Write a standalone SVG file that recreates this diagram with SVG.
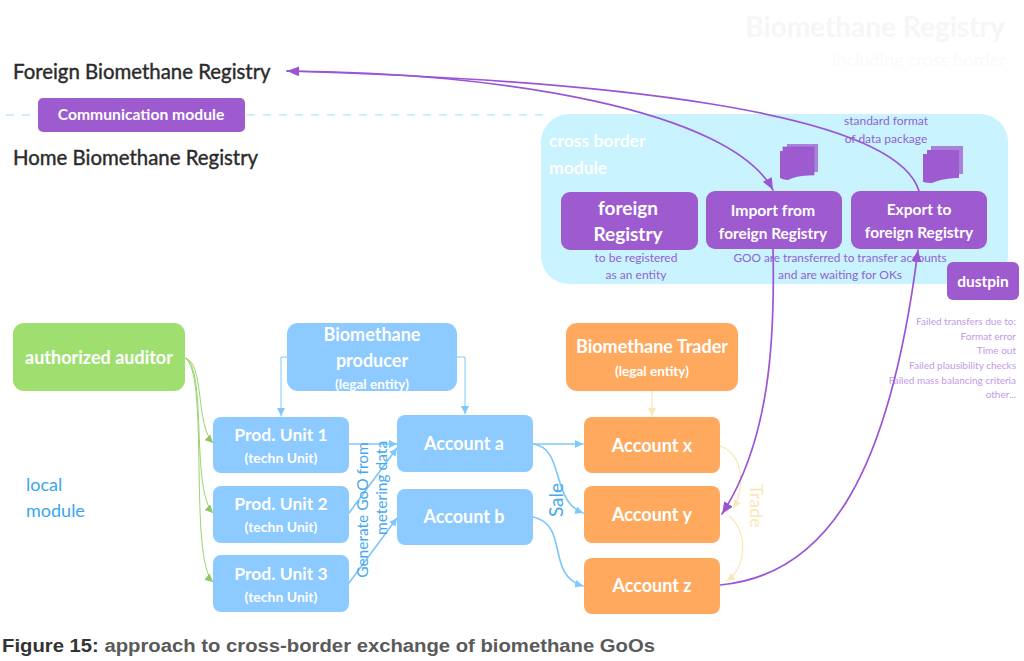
<svg xmlns="http://www.w3.org/2000/svg" width="1024" height="661" viewBox="0 0 1024 661">
<style>
text{font-family:"Lato","Open Sans","Liberation Sans",sans-serif;text-anchor:middle}
.w{fill:#fff;font-weight:700}
.p{fill:#9d5bcf}.b{fill:#8ccaff}.o{fill:#ffa95f}
.pt{fill:#8f63d2;font-size:12px}
.d{fill:#2b2b2b;font-size:20.4px;text-anchor:start;stroke:#2b2b2b;stroke-width:.4}
.c{fill:none;stroke-linecap:round}
.cp{stroke:#9a55d6;stroke-width:1.7}
.cb{stroke:#80c8fb;stroke-width:1.7}
.cbt{stroke:#80c8fb;stroke-width:1}
.cg{stroke:#9bd36f;stroke-width:1}
.cy{stroke:#fbe6b8;stroke-width:1.2}
.r{fill:#c19ae8;font-size:10px;text-anchor:end}
</style>
<defs>
<marker id="ap" markerWidth="14" markerHeight="12" refX="12" refY="5" orient="auto" markerUnits="userSpaceOnUse"><path d="M0 0L12 5L0 10z" fill="#9a55d6"/></marker>
<marker id="ab" markerWidth="9" markerHeight="8" refX="8" refY="4" orient="auto" markerUnits="userSpaceOnUse"><path d="M0 0L8 4L0 8z" fill="#80c8fb"/></marker>
<marker id="ag" markerWidth="9" markerHeight="8" refX="8" refY="4" orient="auto" markerUnits="userSpaceOnUse"><path d="M0 0L8 4L0 8z" fill="#8cc665"/></marker>
<marker id="ay" markerWidth="9" markerHeight="8" refX="8" refY="4" orient="auto" markerUnits="userSpaceOnUse"><path d="M0 0L8 4L0 8z" fill="#fbe6b8"/></marker>
</defs>
<rect width="1024" height="661" fill="#fff"/>

<g id="faint-title">
<text x="875" y="37" font-size="28" fill="#f6f6f7" font-weight="700">Biomethane Registry</text>
<text x="919" y="66" font-size="18" fill="#fafafa">including cross border</text>
</g>

<g id="registry-labels">
<text class="d" x="13" y="79">Foreign Biomethane Registry</text>
<text class="d" x="13" y="165">Home Biomethane Registry</text>
</g>
<path d="M6 115H37M247 115H545" stroke="#c9f0fb" stroke-width="2" stroke-dasharray="8 8" fill="none"/>

<g id="communication-module"><rect class="p" x="38" y="98" width="207" height="34" rx="5"/><text class="w" x="141" y="120" font-size="15.7">Communication module</text></g>

<g id="cross-border-module">
<rect x="541" y="114" width="467" height="170" rx="28" fill="#c9f3ff"/>
<text class="w" x="549" y="147" font-size="17.5" style="text-anchor:start">cross border</text>
<text class="w" x="549" y="174" font-size="17.5" style="text-anchor:start">module</text>
<text class="pt" x="886" y="125">standard format</text>
<text class="pt" x="886" y="143">of data package</text>
<text class="pt" x="636" y="262">to be registered</text>
<text class="pt" x="636" y="279">as an entity</text>
<text class="pt" x="840" y="262" style="font-size:11.8px">GOO are transferred to transfer accounts</text>
<text class="pt" x="840" y="279">and are waiting for OKs</text>
</g>

<g id="stack-import"><rect class="p" x="787" y="144" width="31" height="28" fill-opacity=".75"/><rect class="p" x="783" y="147" width="31" height="28" stroke="#8a55c4" stroke-width=".6"/><path class="p" d="M780 151H811V175Q795 176 788 180Q784 180 780 178z"/></g>
<g id="stack-export"><rect class="p" x="931" y="146" width="32" height="28" fill-opacity=".75"/><rect class="p" x="927" y="150" width="32" height="28"/><path class="p" d="M923 154H955V178Q940 179 932 183Q927 183 923 182z"/></g>

<g id="foreign-registry"><rect class="p" x="561" y="192" width="137" height="58" rx="9"/><text class="w" x="628" y="215" font-size="19">foreign</text><text class="w" x="628" y="241" font-size="19">Registry</text></g>
<g id="import"><rect class="p" x="706" y="191" width="136" height="58" rx="9"/><text class="w" x="773" y="216" font-size="15.7">Import from</text><text class="w" x="773" y="239" font-size="15.4">foreign Registry</text></g>
<g id="export"><rect class="p" x="851" y="191" width="136" height="58" rx="9"/><text class="w" x="919" y="215" font-size="15.5">Export to</text><text class="w" x="919" y="238" font-size="15.4">foreign Registry</text></g>
<g id="dustpin"><rect class="p" x="947" y="262" width="72" height="38" rx="6"/><text class="w" x="983" y="287" font-size="15.5">dustpin</text></g>

<g id="failed-notes">
<text class="r" x="1016" y="325">Failed transfers due to:</text>
<text class="r" x="1016" y="340">Format error</text>
<text class="r" x="1016" y="354">Time out</text>
<text class="r" x="1016" y="369">Failed plausibility checks</text>
<text class="r" x="1016" y="384">Failed mass balancing criteria</text>
<text class="r" x="1016" y="398">other...</text>
</g>

<g id="connectors">
<path class="c cg" marker-end="url(#ag)" d="M185 358C205 362 195 425 213 443"/>
<path class="c cg" marker-end="url(#ag)" d="M185 358C208 366 190 490 213 513"/>
<path class="c cg" marker-end="url(#ag)" d="M185 358C210 370 188 560 213 582"/>
<path class="c cbt" marker-end="url(#ab)" d="M287 357H281V416"/>
<path class="c cbt" marker-end="url(#ab)" d="M457 357H465V414"/>
<path class="c cb" marker-end="url(#ab)" d="M349 444H397"/>
<path class="c cb" marker-end="url(#ab)" d="M349 513L397 448"/>
<path class="c cb" marker-end="url(#ab)" d="M349 583L397 518"/>
<path class="c cb" marker-end="url(#ab)" d="M533 444H583"/>
<path class="c cb" marker-end="url(#ab)" d="M533 444C565 448 550 500 583 513"/>
<path class="c cb" marker-end="url(#ab)" d="M533 517C570 525 545 575 583 586"/>
<path class="c cy" marker-end="url(#ay)" d="M652 391V416"/>
<path class="c cy" marker-end="url(#ay)" d="M720 446C745 455 745 490 733 508"/>
<path class="c cy" marker-end="url(#ay)" d="M729 516C747 530 748 565 727 581"/>
<path class="c cp" marker-end="url(#ap)" d="M919 191C895 110 600 80 287 71"/>
<path class="c cp" marker-end="url(#ap)" d="M287 71C500 72 730 110 773 190"/>
<path class="c cp" marker-end="url(#ap)" d="M773 249C775 340 770 440 722 514"/>
<path class="c cp" marker-end="url(#ap)" d="M720 585C830 575 890 470 918 250"/>
</g>

<g id="auditor"><rect x="13" y="323" width="172" height="68" rx="11" fill="#9fdf70"/><text class="w" x="99" y="364" font-size="18">authorized auditor</text></g>
<g id="producer"><rect class="b" x="287" y="323" width="170" height="68" rx="11"/><text class="w" x="372" y="341" font-size="18">Biomethane</text><text class="w" x="372" y="367" font-size="18">producer</text><text class="w" x="372" y="389" font-size="13.5">(legal entity)</text></g>
<g id="trader"><rect class="o" x="566" y="323" width="172" height="68" rx="11"/><text class="w" x="652" y="353" font-size="18">Biomethane Trader</text><text class="w" x="652" y="376" font-size="13.5">(legal entity)</text></g>

<g id="prod-1"><rect class="b" x="213" y="417" width="136" height="56" rx="8"/><text class="w" x="281" y="441" font-size="17.5">Prod. Unit 1</text><text class="w" x="281" y="463" font-size="14">(techn Unit)</text></g>
<g id="prod-2"><rect class="b" x="213" y="486" width="136" height="57" rx="8"/><text class="w" x="281" y="510" font-size="17.5">Prod. Unit 2</text><text class="w" x="281" y="532" font-size="14">(techn Unit)</text></g>
<g id="prod-3"><rect class="b" x="213" y="555" width="136" height="57" rx="8"/><text class="w" x="281" y="580" font-size="17.5">Prod. Unit 3</text><text class="w" x="281" y="602" font-size="14">(techn Unit)</text></g>
<g id="account-a"><rect class="b" x="397" y="415" width="136" height="57" rx="8"/><text class="w" x="464" y="450" font-size="18">Account a</text></g>
<g id="account-b"><rect class="b" x="397" y="489" width="136" height="56" rx="8"/><text class="w" x="464" y="523" font-size="18">Account b</text></g>
<g id="account-x"><rect class="o" x="584" y="417" width="136" height="56" rx="8"/><text class="w" x="652" y="452" font-size="18">Account x</text></g>
<g id="account-y"><rect class="o" x="584" y="486" width="136" height="57" rx="8"/><text class="w" x="652" y="521" font-size="18">Account y</text></g>
<g id="account-z"><rect class="o" x="584" y="558" width="136" height="56" rx="8"/><text class="w" x="652" y="592" font-size="18">Account z</text></g>

<g id="labels">
<text x="26" y="491" font-size="18" fill="#3aa5ee" style="text-anchor:start">local</text>
<text x="26" y="517" font-size="18" fill="#3aa5ee" style="text-anchor:start">module</text>
<text transform="translate(368 510) rotate(-90)" font-size="15.5" fill="#48a8ee">Generate GoO from</text>
<text transform="translate(387 488) rotate(-90)" font-size="15.5" fill="#48a8ee">metering data</text>
<text transform="translate(563 500) rotate(-90)" font-size="19" fill="#48a8ee">Sale</text>
<text transform="translate(750 506) rotate(90)" font-size="18" fill="#fbe6b8">Trade</text>
</g>

<text id="caption" x="2" y="652" font-size="17.5" font-weight="700" fill="#5a5a5a" textLength="653" lengthAdjust="spacingAndGlyphs" style="font-family:'Liberation Sans',sans-serif;text-anchor:start"><tspan fill="#333">Figure 15:</tspan> approach to cross-border exchange of biomethane GoOs</text>
</svg>
